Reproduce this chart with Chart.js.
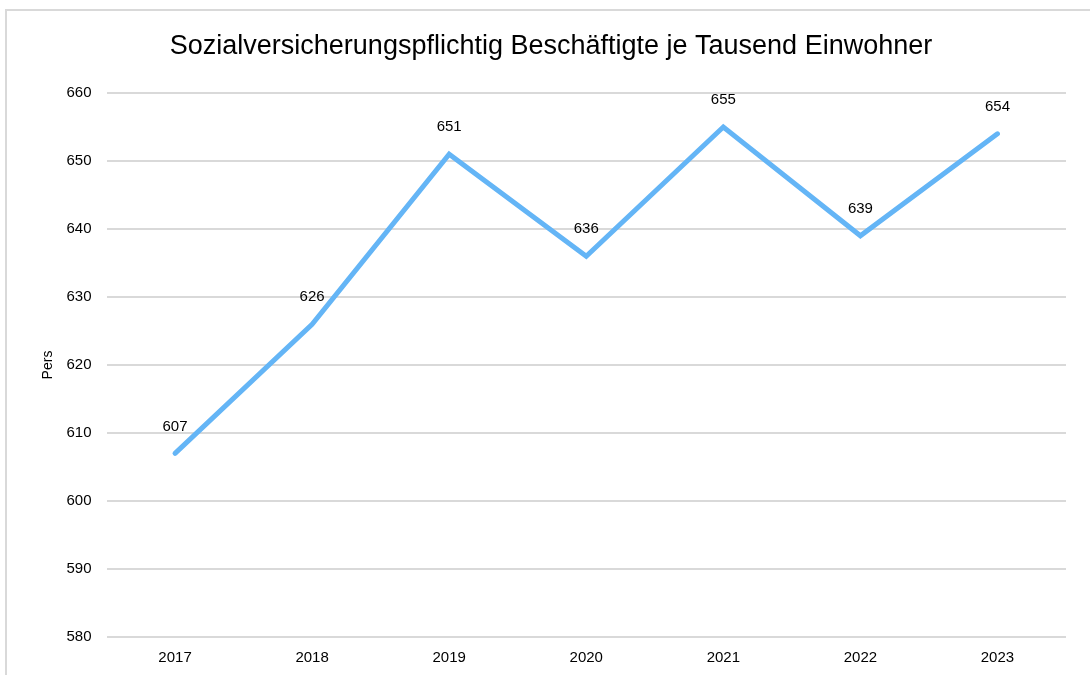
<!DOCTYPE html>
<html>
<head>
<meta charset="utf-8">
<script src="https://cdn.jsdelivr.net/npm/chart.js@4.4.1/dist/chart.umd.min.js"></script>
<style>
  html, body { margin: 0; padding: 0; background: #fff; }
  #frame {
    position: absolute; left: 5px; top: 9px; width: 1200px; height: 800px;
    border-left: 2px solid #d9d9d9; border-top: 2px solid #d9d9d9;
  }
  #wrap { position: absolute; left: 0; top: 0; width: 1090px; height: 675px; }
</style>
</head>
<body>
<div id="frame"></div>
<div id="wrap"><canvas id="lineChart"></canvas></div>
<script>
const years = ['2017', '2018', '2019', '2020', '2021', '2022', '2023'];
const employedPerThousand = [607, 626, 651, 636, 655, 639, 654];
const yMin = 580;
const yMax = 660;
const yStep = 10;
const chartTitle = 'Sozialversicherungspflichtig Beschäftigte je Tausend Einwohner';

// draws the title (centred on the page) and the value above each point
const valueLabels = {
    id: 'valueLabels',
    afterDatasetsDraw(chart) {
        const ctx = chart.ctx;
        const meta = chart.getDatasetMeta(0);
        ctx.save();
        ctx.fillStyle = '#000';
        ctx.textAlign = 'center';
        ctx.textBaseline = 'middle';
        ctx.font = '27px "Liberation Sans", Arial, sans-serif';
        ctx.fillText(chartTitle, 551, 47);
        ctx.font = '15px "Liberation Sans", Arial, sans-serif';
        meta.data.forEach(function (pt, i) {
            ctx.fillText(String(employedPerThousand[i]), pt.x, pt.y - 27);
        });
        ctx.restore();
    }
};

document.addEventListener("DOMContentLoaded", function () {
    const ctx = document.getElementById('lineChart').getContext('2d');
    new Chart(ctx, {
        type: 'line',
        data: {
            labels: years,
            datasets: [{
                label: 'Pers',
                data: employedPerThousand,
                borderColor: '#64B5F6',
                borderWidth: 5,
                borderCapStyle: 'round',
                borderJoinStyle: 'miter',
                pointRadius: 0,
                tension: 0,
                fill: false
            }]
        },
        options: {
            responsive: true,
            maintainAspectRatio: false,
            animation: false,
            layout: { padding: { left: 0, right: 24, top: 93, bottom: 0 } },
            plugins: {
                legend: { display: false },
                tooltip: { enabled: false },
                title: { display: false }
            },
            scales: {
                x: {
                    offset: true,
                    grid: { display: false, drawTicks: false },
                    border: { display: false },
                    ticks: {
                        color: '#000',
                        padding: 12,
                        font: { family: '"Liberation Sans", Arial, sans-serif', size: 15 }
                    },
                    afterFit: function (scale) { scale.height = 38; }
                },
                y: {
                    min: yMin,
                    max: yMax,
                    grid: { color: '#d9d9d9', lineWidth: 2, drawTicks: false },
                    border: { display: false },
                    ticks: {
                        stepSize: yStep,
                        color: '#000',
                        padding: 15,
                        font: { family: '"Liberation Sans", Arial, sans-serif', size: 15 }
                    },
                    title: {
                        display: true,
                        text: 'Pers',
                        color: '#000',
                        padding: { top: 40, bottom: 0 },
                        font: { family: '"Liberation Sans", Arial, sans-serif', size: 14 }
                    },
                    afterFit: function (scale) { scale.width = 106.5; }
                }
            }
        },
        plugins: [valueLabels]
    });
});
</script>
</body>
</html>
